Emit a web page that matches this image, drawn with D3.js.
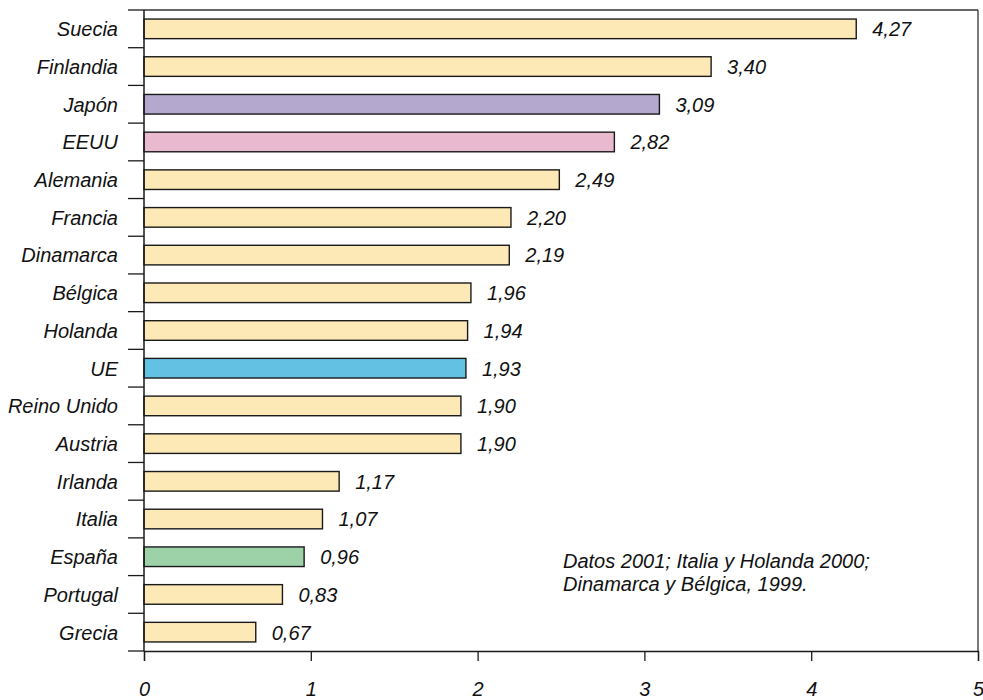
<!DOCTYPE html>
<html>
<head>
<meta charset="utf-8">
<script src="https://cdn.jsdelivr.net/npm/d3@7"></script>
<style>
  html, body { margin: 0; padding: 0; background: #fff; }
  svg text { font-family: "Liberation Sans", Arial, sans-serif; font-style: italic; fill: #111; }
</style>
</head>
<body>
<svg id="chart" width="983" height="700"></svg>
<script>
// Gasto en I+D como % del PIB
const countries = ["Suecia", "Finlandia", "Japón", "EEUU", "Alemania", "Francia", "Dinamarca",
  "Bélgica", "Holanda", "UE", "Reino Unido", "Austria", "Irlanda", "Italia", "España", "Portugal", "Grecia"];
const values = [4.27, 3.40, 3.09, 2.82, 2.49, 2.20, 2.19, 1.96, 1.94, 1.93, 1.90, 1.90, 1.17, 1.07, 0.96, 0.83, 0.67];
const xTicks = [0, 1, 2, 3, 4, 5];
const highlight = { "Japón": "#b4a8cf", "EEUU": "#e9b9d0", "UE": "#63c2e4", "España": "#9dd2a9" };
const baseColor = "#fde9b6";
const noteLines = ["Datos 2001; Italia y Holanda 2000;", "Dinamarca y Bélgica, 1999."];

const svg = d3.select("#chart");
const mLeft = 144, mRight = 978, mTop = 10, mBottom = 651;
const fs = 20;

const x = d3.scaleLinear().domain([0, 5]).range([mLeft, mRight]);
const y = d3.scaleBand().domain(countries).range([mTop, mBottom]).padding(0);
const bw = y.bandwidth();
const barH = bw * 0.52;

const esLocale = d3.formatLocale({ decimal: ",", thousands: ".", grouping: [3], currency: ["", "€"] });
const fmt = esLocale.format(".2f");

// frame: top and right edges
svg.append("line").attr("x1", mLeft).attr("x2", mRight).attr("y1", mTop).attr("y2", mTop)
  .attr("stroke", "#333").attr("stroke-width", 1.3);
svg.append("line").attr("x1", mRight).attr("x2", mRight).attr("y1", mTop).attr("y2", mBottom)
  .attr("stroke", "#333").attr("stroke-width", 1.3);

// bars
svg.append("g").selectAll("rect").data(countries).join("rect")
  .attr("x", x(0))
  .attr("y", d => y(d) + (bw - barH) / 2)
  .attr("width", (d, i) => x(values[i]) - x(0))
  .attr("height", barH)
  .attr("fill", d => highlight[d] || baseColor)
  .attr("stroke", "#1a1a1a")
  .attr("stroke-width", 1.4);

// value labels
svg.append("g").selectAll("text").data(countries).join("text")
  .attr("x", (d, i) => x(values[i]) + 16)
  .attr("y", d => y(d) + bw / 2)
  .attr("dy", "0.37em")
  .attr("font-size", fs)
  .text((d, i) => fmt(values[i]));

// category axis: ticks on band boundaries, labels centred in bands
const gy = svg.append("g");
gy.append("line").attr("x1", mLeft).attr("x2", mLeft).attr("y1", mTop).attr("y2", mBottom)
  .attr("stroke", "#1a1a1a").attr("stroke-width", 1.5);
gy.selectAll("line.tick").data(d3.range(countries.length + 1)).join("line")
  .attr("class", "tick")
  .attr("x1", mLeft - 16).attr("x2", mLeft)
  .attr("y1", i => mTop + i * y.step()).attr("y2", i => mTop + i * y.step())
  .attr("stroke", "#1a1a1a").attr("stroke-width", 1.3);
gy.selectAll("text").data(countries).join("text")
  .attr("x", 118)
  .attr("y", d => y(d) + bw / 2)
  .attr("dy", "0.37em")
  .attr("text-anchor", "end")
  .attr("font-size", fs)
  .text(d => d);

// value axis along the bottom
const xAxis = d3.axisBottom(x).tickValues(xTicks).tickSize(10).tickPadding(21)
  .tickFormat(d => String(d));
const gx = svg.append("g").attr("transform", `translate(0,${mBottom})`).call(xAxis);
gx.select(".domain").attr("stroke", "#1a1a1a").attr("stroke-width", 1.3);
gx.selectAll(".tick line").attr("stroke", "#1a1a1a").attr("stroke-width", 1.3);
gx.selectAll(".tick text").attr("font-size", fs).attr("font-family", null).attr("fill", "#111");

// note
svg.append("g").selectAll("text").data(noteLines).join("text")
  .attr("x", 563)
  .attr("y", (d, i) => 568 + i * 23)
  .attr("font-size", fs)
  .text(d => d);
</script>
</body>
</html>
